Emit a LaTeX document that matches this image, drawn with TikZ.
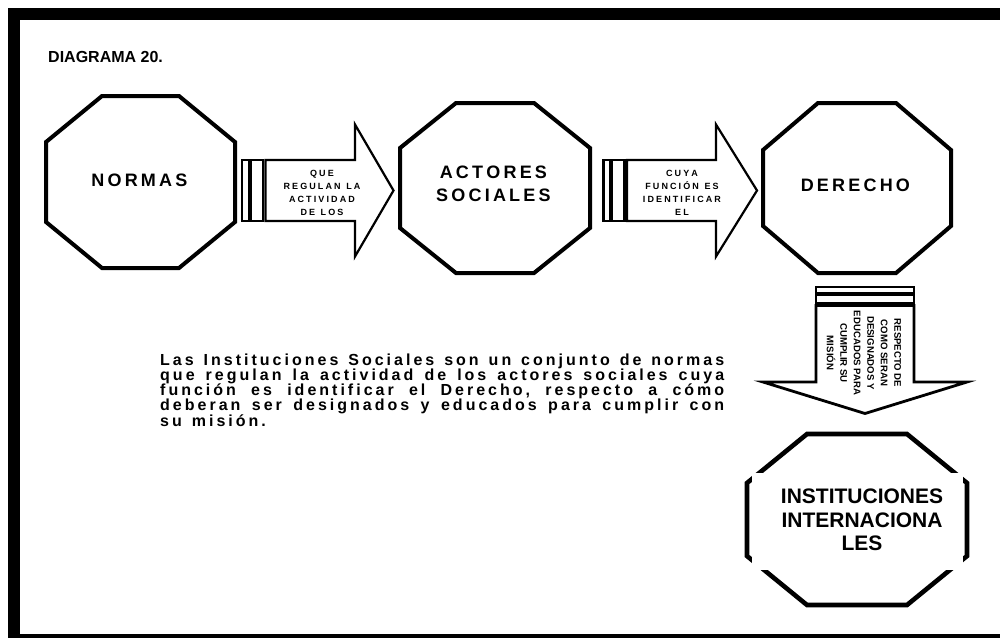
\documentclass[tikz,border=0pt]{standalone}
\usepackage{fontspec}
\setmainfont{Liberation Sans}
% octagon between corners (x1,y1) and (x2,y2), corner cuts dx and dy
\newcommand\octpath[6]{(#1+#5,#2) -- (#3-#5,#2) -- (#3,#2+#6) -- (#3,#4-#6) -- (#3-#5,#4) -- (#1+#5,#4) -- (#1,#4-#6) -- (#1,#2+#6) -- cycle}
% tracked text: #1 gap after each letter, #2 glue between words, #3 text
\ExplSyntaxOn
\dim_new:N \l_track_gap_dim
\seq_new:N \l_track_words_seq
\bool_new:N \l_track_first_bool
\NewDocumentCommand \trackedtext { m m m }
  {
    \dim_set:Nn \l_track_gap_dim {#1}
    \seq_set_split:Nnn \l_track_words_seq { ~ } {#3}
    \bool_set_true:N \l_track_first_bool
    \seq_map_inline:Nn \l_track_words_seq
      {
        \bool_if:NF \l_track_first_bool {#2}
        \bool_set_false:N \l_track_first_bool
        \tl_map_inline:nn {##1} { ####1 \kern \l_track_gap_dim }
      }
  }
\ExplSyntaxOff
\newcommand\octtext[1]{\trackedtext{3.2pt}{\hspace{5pt}}{#1}}
\newcommand\arrtext[1]{\trackedtext{2.1pt}{\hspace{3.5pt}}{#1}}
\newcommand\jline[1]{\makebox[567pt][s]{\trackedtext{3pt}{\hfill}{#1}}}
\begin{document}
\begin{tikzpicture}[x=1pt,y=-1pt,
  octagon/.style={line width=4pt, draw=black, fill=white, line join=miter},
  blockarrow/.style={line width=2.2pt, draw=black, fill=white, line join=miter},
  stripe/.style={line width=2.6pt, draw=black, fill=white},
  octlabel/.style={font=\bfseries\fontsize{18}{23.3}\selectfont, align=center, inner sep=0pt},
  arrlabel/.style={font=\bfseries\fontsize{9}{13.1}\selectfont, align=center, inner sep=0pt},
]
\useasboundingbox (0,0) rectangle (1000,638);
\fill[white] (0,0) rectangle (1000,638);

% page frame
\fill[black] (8,8) rectangle (1000,638);
\fill[white] (19.5,20) rectangle (1000,634);

% title
\node[anchor=base west, inner sep=0pt, font=\bfseries\fontsize{16}{19}\selectfont] (titulo) at (48,62) {DIAGRAMA 20.};

% octagons
\draw[octagon] \octpath{46}{96}{235}{268}{56}{46};
\draw[octagon] \octpath{400}{103}{590}{273}{56}{45};
\draw[octagon] \octpath{763}{103}{951}{273}{55}{47};
\draw[octagon, line width=4.6pt] \octpath{747}{434}{967}{605}{60}{49};

\node[octlabel] (normas) at (141,180) {\octtext{NORMAS}};
\node[octlabel] (actores) at (495,183.5) {\octtext{ACTORES}\\\octtext{SOCIALES}};
\node[octlabel] (derecho) at (857,185) {\octtext{DERECHO}};

% label box of the last octagon
\fill[white] (752,473) rectangle (963,570);
\node[inner sep=0pt, align=center, font=\bfseries\fontsize{21}{23.5}\selectfont] (instituciones) at (862,520) {INSTITUCIONES\\INTERNACIONA\\LES};

% striped arrow: NORMAS -> ACTORES SOCIALES
\draw[stripe] (242,160) rectangle (249,221);
\draw[stripe] (250.5,160) rectangle (263,221);
\draw[blockarrow] (265.5,160) -- (355,160) -- (355,124.5) -- (393.5,190.5) -- (355,256.5) -- (355,221) -- (265.5,221) -- cycle;
\node[arrlabel] (regulan) at (323,193) {\arrtext{QUE}\\\arrtext{REGULAN LA}\\\arrtext{ACTIVIDAD}\\\arrtext{DE LOS}};

% striped arrow: ACTORES SOCIALES -> DERECHO
\draw[stripe] (603.5,160) rectangle (610.5,221);
\draw[stripe] (612,160) rectangle (624.5,221);
\draw[blockarrow] (627,160) -- (716,160) -- (716,124.5) -- (757,190.5) -- (716,256.5) -- (716,221) -- (627,221) -- cycle;
\node[arrlabel] (funcion) at (683,193) {\arrtext{CUYA}\\\arrtext{FUNCIÓN ES}\\\arrtext{IDENTIFICAR}\\\arrtext{EL}};

% striped arrow: DERECHO -> INSTITUCIONES INTERNACIONALES
\draw[stripe] (816,287) rectangle (914,293);
\draw[stripe] (816,295) rectangle (914,303.5);
\draw[blockarrow, line width=2.8pt] (816,305.5) -- (816,382) -- (763,382) -- (865,413.5) -- (967,382) -- (914,382) -- (914,305.5) -- cycle;
\node[inner sep=0pt, align=center, rotate=-90, font=\bfseries\fontsize{9.6}{13.5}\selectfont] (respecto) at (864,353) {RESPECTO DE\\COMO SERAN\\DESIGNADOS Y\\EDUCADOS PARA\\CUMPLIR SU\\MISIÓN};

% explanatory paragraph, set tight as in the source document
\node[anchor=north west, inner sep=0pt, text width=567pt, font=\bfseries\fontsize{16}{14.75}\selectfont] (texto) at (160,354) {%
\lineskiplimit=-20pt
\jline{Las Instituciones Sociales son un conjunto de normas}\\
\jline{que regulan la actividad de los actores sociales cuya}\\
\jline{función es identificar el Derecho, respecto a cómo}\\
\jline{deberan ser designados y educados para cumplir con}\\
\trackedtext{3pt}{\hspace{7pt}}{su misión.}};
\end{tikzpicture}
\end{document}
